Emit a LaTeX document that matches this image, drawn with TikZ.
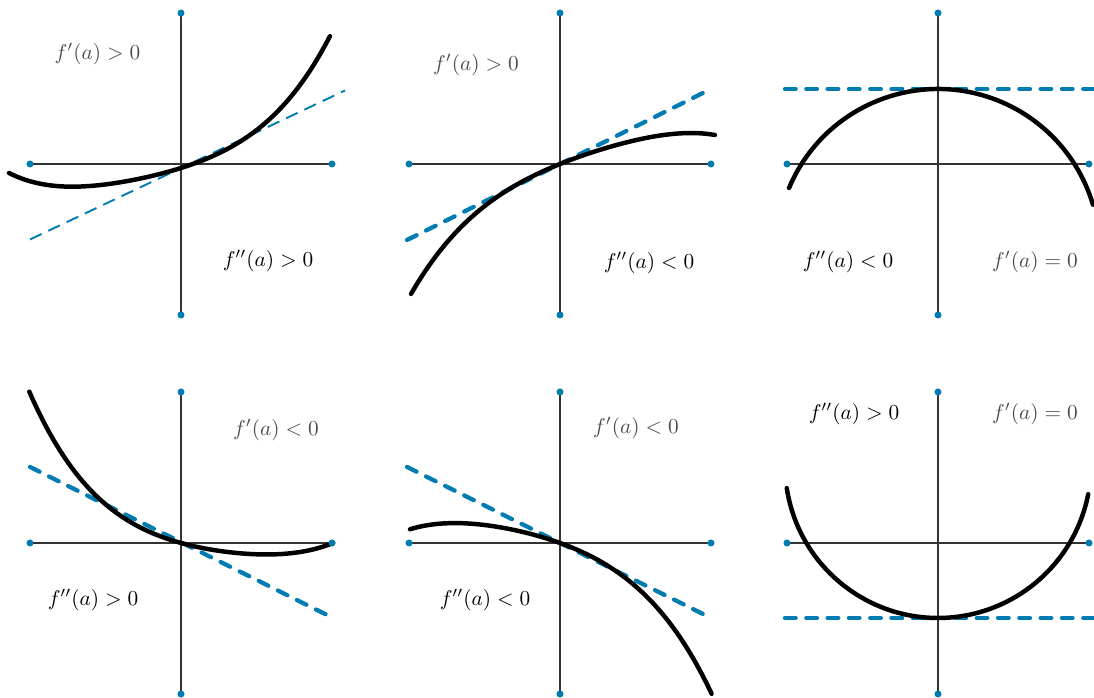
\documentclass[tikz,border=0pt]{standalone}
\usepackage{amsmath}
\definecolor{dotblue}{RGB}{0,124,178}

\tikzset{
    axis/.style={black!80, line width=0.5pt},
    curve/.style={black, line width=2.1pt, line cap=round, samples=80, variable=\x},
    tangent/.style={dotblue, line width=2pt, line cap=round, dash pattern=on 5pt off 5pt},
    thintangent/.style={dotblue, line width=0.9pt, dash pattern=on 6pt off 3.5pt},
    firstlbl/.style={text=black!70},
    secondlbl/.style={text=black}
}

\begin{document}
\begin{tikzpicture}[x=1.65cm, y=1.65cm,
    declare function={
        fone(\x)   = -0.04 + 0.3145*\x + 0.1604*\x*\x + 0.0787*\x*\x*\x + 0.0476*\x*\x*\x*\x;
        ftwo(\x)   = 0.4023*\x - 0.1395*\x*\x + 0.0604*\x*\x*\x - 0.0387*\x*\x*\x*\x;
        ffour(\x)  = -0.2758*\x + 0.2114*\x*\x - 0.0971*\x*\x*\x + 0.0509*\x*\x*\x*\x;
        ffive(\x)  = -0.3607*\x - 0.1958*\x*\x - 0.0784*\x*\x*\x - 0.045*\x*\x*\x*\x;
    }]
    \useasboundingbox (0,0) rectangle (10.94,6.98);

    % axes of the six panels
    \foreach \cx/\cy/\i in {1.81/5.34/1, 5.60/5.34/2, 9.38/5.34/3, 1.81/1.55/4, 5.60/1.55/5, 9.38/1.55/6} {
        \begin{scope}[shift={(\cx,\cy)}]
            \coordinate (w\i) at (-1.51,0);
            \coordinate (e\i) at (1.51,0);
            \coordinate (n\i) at (0,1.51);
            \coordinate (s\i) at (0,-1.51);
            \draw[axis] (w\i) -- (e\i);
            \draw[axis] (n\i) -- (s\i);
        \end{scope}
    }

    % f' > 0, f'' > 0
    \begin{scope}[shift={(1.81,5.34)}]
        \draw[thintangent] (-1.51,-0.755) -- (1.64,0.735);
        \draw[curve, domain=-1.72:1.49] plot ({\x}, {fone(\x)});
        \node[firstlbl] (p1) at (-0.835,1.10) {$f'(a)>0$};
        \node[secondlbl] (q1) at (0.87,-0.97) {$f''(a)>0$};
    \end{scope}

    % f' > 0, f'' < 0
    \begin{scope}[shift={(5.60,5.34)}]
        \draw[tangent] (-1.53,-0.76) -- (1.45,0.72);
        \draw[curve, domain=-1.49:1.55] plot ({\x}, {ftwo(\x)});
        \node[firstlbl] (p2) at (-0.84,0.99) {$f'(a)>0$};
        \node[secondlbl] (q2) at (0.89,-0.99) {$f''(a)<0$};
    \end{scope}

    % f' = 0, f'' < 0
    \begin{scope}[shift={(9.38,5.34)}]
        \draw[tangent] (-1.53,0.75) -- (1.57,0.75);
        \draw[curve] (0,-0.866) ++(157.2:1.616) arc[start angle=157.2, end angle=16.5, radius=1.616];
        \node[secondlbl] (q3) at (-0.90,-0.98) {$f''(a)<0$};
        \node[firstlbl] (p3) at (0.97,-0.98) {$f'(a)=0$};
    \end{scope}

    % f' < 0, f'' > 0
    \begin{scope}[shift={(1.81,1.55)}]
        \draw[tangent] (-1.51,0.76) -- (1.46,-0.72);
        \draw[curve, domain=-1.517:1.52] plot ({\x}, {ffour(\x)});
        \node[firstlbl] (p4) at (0.95,1.13) {$f'(a)<0$};
        \node[secondlbl] (q4) at (-0.88,-0.57) {$f''(a)>0$};
    \end{scope}

    % f' < 0, f'' < 0
    \begin{scope}[shift={(5.60,1.55)}]
        \draw[tangent] (-1.53,0.76) -- (1.45,-0.72);
        \draw[curve, domain=-1.50:1.517] plot ({\x}, {ffive(\x)});
        \node[firstlbl] (p5) at (0.76,1.15) {$f'(a)<0$};
        \node[secondlbl] (q5) at (-0.75,-0.57) {$f''(a)<0$};
    \end{scope}

    % f' = 0, f'' > 0
    \begin{scope}[shift={(9.38,1.55)}]
        \draw[tangent] (-1.53,-0.75) -- (1.57,-0.75);
        \draw[curve] (0,0.78) ++(188.7:1.53) arc[start angle=188.7, end angle=349, radius=1.53];
        \node[secondlbl] (q6) at (-0.84,1.29) {$f''(a)>0$};
        \node[firstlbl] (p6) at (0.97,1.29) {$f'(a)=0$};
    \end{scope}

    % end dots on top
    \foreach \i in {1,...,6}
        \foreach \d in {w,e,n,s}
            \fill[dotblue] (\d\i) circle (1.65pt);
\end{tikzpicture}
\end{document}
